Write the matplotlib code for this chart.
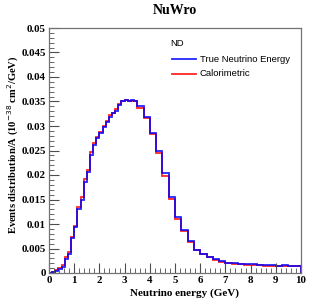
import numpy as np
from matplotlib import pyplot as plt
from matplotlib.ticker import MultipleLocator, FormatStrFormatter

# bin edges: 0.125 GeV up to 3.5 GeV, then 0.25 GeV up to 10 GeV
bin_edges = np.concatenate([np.arange(0, 3.5, 0.125), np.arange(3.5, 10.01, 0.25)])

true_energy = [0.0001, 0.0003, 0.0004, 0.0008, 0.0013, 0.0028, 0.0039, 0.0071,
               0.0093, 0.0130, 0.0150, 0.0186, 0.0206, 0.0241, 0.0261, 0.0275,
               0.0286, 0.0297, 0.0309, 0.0319, 0.0326, 0.0331, 0.0343, 0.0350,
               0.0353, 0.0352, 0.0353, 0.0352,
               0.0340, 0.0319, 0.0286, 0.0250, 0.0204, 0.0156, 0.0115, 0.0088,
               0.0066, 0.0047, 0.0039, 0.0033, 0.0028, 0.0024, 0.0021, 0.0020,
               0.0019, 0.0018, 0.0018, 0.0017, 0.0016, 0.0016, 0.0015, 0.0016,
               0.0015, 0.0015]

calorimetric = [0.0001, 0.0003, 0.0006, 0.0010, 0.0016, 0.0032, 0.0043, 0.0074,
                0.0096, 0.0134, 0.0155, 0.0192, 0.0210, 0.0246, 0.0265, 0.0278,
                0.0288, 0.0300, 0.0311, 0.0322, 0.0327, 0.0334, 0.0345, 0.0352,
                0.0354, 0.0351, 0.0351, 0.0350,
                0.0337, 0.0316, 0.0283, 0.0244, 0.0198, 0.0151, 0.0110, 0.0085,
                0.0063, 0.0046, 0.0038, 0.0032, 0.0027, 0.0023, 0.0021, 0.0019,
                0.0018, 0.0017, 0.0017, 0.0016, 0.0015, 0.0015, 0.0015, 0.0014,
                0.0015, 0.0015]

serif = 'Liberation Serif'
sans = 'Liberation Sans'

fig = plt.figure(figsize=(3.15, 3.07), dpi=100)
ax = fig.add_axes([49/315, 34/307, 252/315, 245/307])

ax.stairs(calorimetric, bin_edges, color='red', lw=1.3, alpha=0.85)
ax.stairs(true_energy, bin_edges, color='blue', lw=1.3, alpha=0.85)

ax.set_xlim(0, 10)
ax.set_ylim(0, 0.05)
ax.xaxis.set_major_locator(MultipleLocator(1))
ax.xaxis.set_minor_locator(MultipleLocator(0.2))
ax.yaxis.set_major_locator(MultipleLocator(0.005))
ax.yaxis.set_minor_locator(MultipleLocator(0.001))
ax.yaxis.set_major_formatter(FormatStrFormatter('%g'))
ax.xaxis.set_major_formatter(FormatStrFormatter('%g'))
ax.tick_params(which='both', direction='in', top=False, right=False, colors='0.3')
ax.tick_params(which='major', length=7, width=0.8, labelcolor='black', pad=2.5)
ax.tick_params(which='minor', length=3.5, width=0.6)
for lab in ax.get_xticklabels() + ax.get_yticklabels():
    lab.set_family(serif)
    lab.set_weight('bold')
    lab.set_size(7.8)
for sp in ax.spines.values():
    sp.set_color('0.45')
    sp.set_linewidth(0.9)

fig.text(175/315, 1 - 11/307, 'NuWro', family=serif, weight='bold', size=10,
         ha='center', va='center')
fig.text(185/315, 1 - 293/307, 'Neutrino energy (GeV)', family=serif, weight='bold',
         size=8, ha='center', va='center')
fig.text(13/315, 1 - 145/307, 'Events distribution/A (10$^{-38}$ cm$^{2}$/GeV)',
         family=serif, weight='bold', size=7.6, rotation=90, ha='center', va='center')

# legend
ax.text(170/315, 1 - 43/307, 'ND', transform=fig.transFigure, family=sans, size=6.8,
        va='center', ha='left')
ax.plot([172/315, 196/315], [1 - 59/307] * 2, transform=fig.transFigure, color='blue',
        lw=1.3, alpha=0.85, clip_on=False)
ax.plot([172/315, 196/315], [1 - 74/307] * 2, transform=fig.transFigure, color='red',
        lw=1.3, alpha=0.85, clip_on=False)
ax.text(200/315, 1 - 59/307, 'True Neutrino Energy', transform=fig.transFigure,
        family=sans, size=6.8, va='center', ha='left')
ax.text(200/315, 1 - 74/307, 'Calorimetric', transform=fig.transFigure,
        family=sans, size=6.8, va='center', ha='left')

fig.savefig('out.png', dpi=100)
